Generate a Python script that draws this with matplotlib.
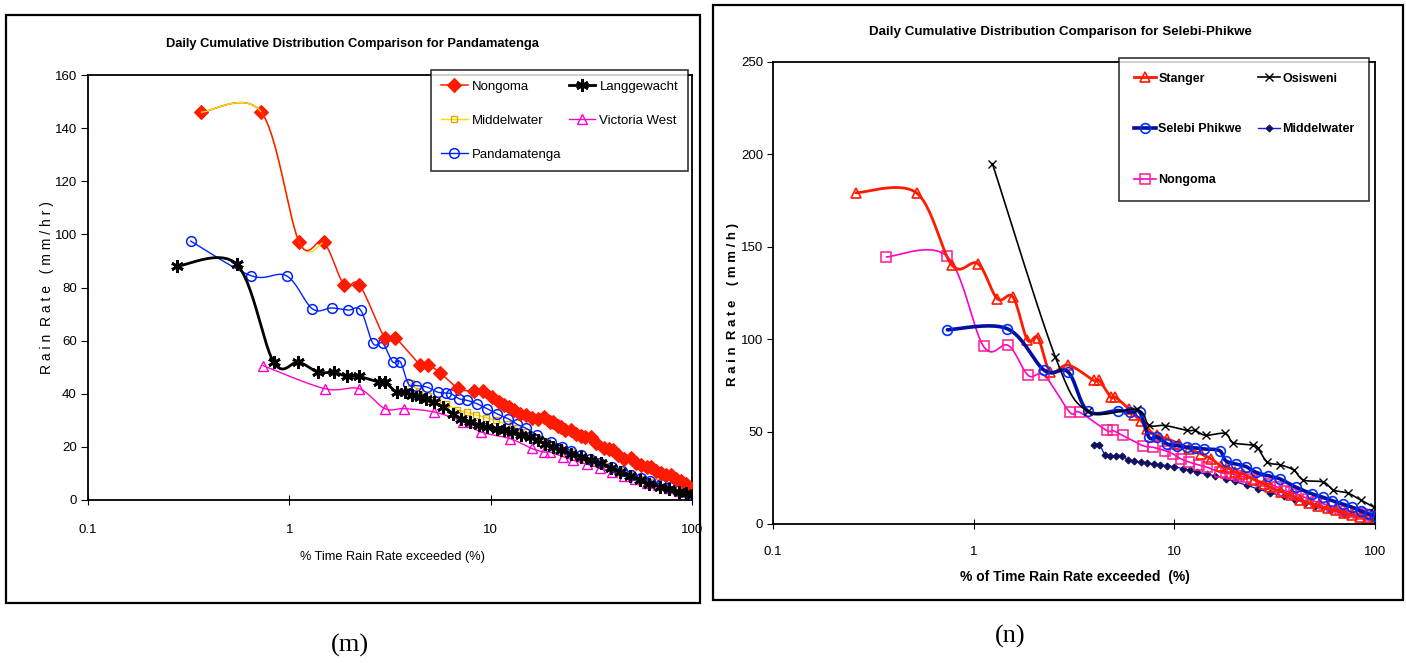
import numpy as np
import matplotlib
matplotlib.use("Agg")
import matplotlib.pyplot as plt
from matplotlib.patches import Rectangle

# ---------------- data: panel (m) Pandamatenga ----------------
m_nongoma_x = [0.366, 0.727, 1.12, 1.48, 1.87, 2.23, 2.98, 3.36, 4.46, 4.88, 5.58, 6.92, 8.28, 9.14, 10.2,
               11.0, 11.7, 12.4, 13.1, 14.0, 15.0, 16.0, 17.1, 18.4, 19.6, 20.3, 21.5, 22.4, 23.5, 25.0,
               26.5, 28.0, 29.5, 31.4, 33.5, 36.5, 38.5, 40.4, 43.0, 46.0, 49.8, 53.0, 56.0, 60.0, 62.5,
               66.0, 70.0, 74.0, 78.7, 83.0, 88.0, 93.0, 97.0, 100.0]
m_nongoma_y = [146, 146, 97, 97, 81, 81, 61, 61, 51, 51, 48, 42, 41, 41, 38.8,
               37, 35.6, 35, 33.8, 32.5, 31.9, 31, 30.6, 31.3, 29.4, 29.4, 28, 27.5, 26.5, 26.4,
               25, 24, 23.7, 23.7, 21.5, 19.6, 19.2, 18.8, 17, 15.6, 15.8, 14, 13.1, 12.4, 12.4,
               11, 10, 9.4, 9.4, 8, 7, 6, 5, 4]

m_langg_x = [0.276, 0.548, 0.836, 1.11, 1.39, 1.66, 1.94, 2.22, 2.78, 2.98, 3.41, 3.76, 4.07, 4.46, 4.8,
             5.22, 5.8, 6.53, 7.14, 7.9, 8.74, 9.6, 10.7, 11.7, 12.8, 14.2, 15.7, 17.1, 18.7, 20.5,
             22.4, 25.0, 28.1, 31.5, 35.2, 39.5, 44, 49, 55, 61, 69, 77, 86, 93, 100]
m_langg_y = [88, 88.75, 51.9, 51.9, 48.1, 48.1, 46.5, 46.5, 44.4, 44.4, 40.6, 40.6, 39.4, 38.75, 38,
             36.9, 35, 32.5, 30.6, 29.5, 28.1, 27.5, 26.9, 26.2, 25.6, 24.6, 23.75, 22.5, 21.25, 20,
             18.75, 17.5, 16.25, 15, 13.75, 12.2, 10.6, 9, 7.5, 6.2, 5, 4, 3.1, 2.5, 1.9]

# first run coincides with the top of Nongoma, second run lies in the dense band
m_middel_x = [0.366, 0.727, 1.12, 1.48, np.nan, 4.0, 4.4, 4.9, 5.4, 6.0, 6.8, 7.6, 8.5, 9.5, 10.6, 12,
              13.5, 15, 17, 19, 22, 25, 29, 33, 38, 44, 50, 57, 65, 74, 84, 94, 100]
m_middel_y = [146, 146, 97, 97, np.nan, 44, 41, 39, 37.5, 36, 34, 33, 32, 31, 30, 28.5,
              27, 25.5, 23.5, 22, 19.5, 18, 16, 14.5, 12.8, 11, 9.5, 8, 6.6, 5.3, 4, 3, 2.5]

m_victoria_x = [0.740, 1.50, 2.22, 2.98, 3.72, 5.26, 7.30, 8.94, 12.5, 16.0, 18.3, 19.6, 23.0, 25.7,
                30, 35, 40, 46, 52, 60, 68, 77, 87, 100]
m_victoria_y = [50.6, 41.9, 41.9, 34.4, 34.4, 33.1, 29.4, 25.6, 23.1, 19.4, 18.1, 18.1, 16.25, 15,
                13.5, 12, 10.5, 9, 8, 6.5, 5.5, 4.5, 3.3, 2]

m_panda_x = [0.323, 0.647, 0.969, 1.30, 1.62, 1.96, 2.26, 2.60, 2.91, 3.26, 3.56, 3.90, 4.26, 4.83,
             5.46, 5.97, 6.38, 6.98, 7.64, 8.55, 9.57, 10.7, 12.2, 13.5, 15, 17, 20, 22.5, 25, 28,
             31, 35, 40, 45, 50, 56, 62, 70, 78, 86, 94, 100]
m_panda_y = [97.5, 84.4, 84.4, 72, 72.3, 71.5, 71.5, 59, 59, 52, 52, 43.75, 43.1, 42.5,
             40.6, 40.3, 40, 38.1, 37.5, 36.25, 34.4, 32.5, 30.6, 28.5, 27, 24.5, 22, 20, 18.5, 17,
             15.5, 14, 12.5, 11, 9.5, 8.3, 7.3, 6, 4.8, 3.8, 2.8, 2]

# ---------------- data: panel (n) Selebi-Phikwe ----------------
n_stanger_x = [0.259, 0.519, 0.780, 1.05, 1.31, 1.57, 1.85, 2.09, 2.41, 2.96, 3.97, 4.23, 4.82, 5.09,
               5.93, 6.3, 6.81, 7.30, 8.20, 9.20, 10.6, 11.9, 13.6, 15.3, 17, 18.4, 20, 22.1, 25, 28,
               30, 34, 38, 42.5, 47, 52, 58, 64, 70, 77, 84, 92, 100]
n_stanger_y = [179.2, 179.2, 140, 140.9, 121.9, 122.8, 99.7, 100.8, 82.3, 86, 77.7, 77.7, 68.6, 68.6,
               62.3, 59, 56, 51.5, 47.9, 46.1, 43.4, 40.6, 37.9, 35.2, 31.5, 30.7, 28, 27.1, 24, 21.5,
               20, 17.5, 15.5, 13, 11.5, 10, 8.7, 7.5, 6.2, 5, 4, 3, 2]

n_osis_x = [1.24, 2.55, 3.70, 6.5, 7.47, 8.99, 11.6, 12.7, 14.3, 17.9, 19.7, 24.8, 26.1, 29.1, 33.8,
            39.3, 44.0, 55.3, 62.0, 73.0, 84.8, 98.4]
n_osis_y = [195, 90.5, 61, 62, 53.5, 53.3, 50.6, 50.6, 48, 49, 44, 42.7, 41, 33.5, 32,
            29.2, 23.8, 22.7, 18.4, 16.8, 13, 9.2]

n_selebi_x = [0.740, 1.47, 2.25, 2.96, 3.70, 5.23, 5.99, 6.72, 7.47, 8.20, 9.20, 10.3, 11.6, 12.7,
              14.0, 16.8, 18.0, 20.2, 22.7, 25.5, 29.2, 33.6, 40.4, 48.6, 55, 61.3, 69, 77.2, 85,
              92.9, 100]
n_selebi_y = [105.1, 105.7, 83.1, 82.2, 61.1, 61.4, 60.5, 60.5, 47, 47, 43.4, 42.4, 41.5, 41.2,
              40.6, 39.7, 34.3, 32.5, 31.1, 28, 26.2, 24.4, 19.9, 16.3, 14.5, 12.6, 10.8, 9.0, 7,
              5.4, 4.5]

n_middel_x = [3.97, 4.23, 4.5, 4.8, 5.1, 5.5, 5.9, 6.3, 6.8, 7.3, 7.9, 8.5, 9.2, 10, 11, 12, 13, 14.5,
              16, 18, 20, 23, 26, 30, 35, 40, 45, 50, 60, 70]
n_middel_y = [43, 43, 37.6, 37, 37, 37, 34.5, 34, 33.5, 33, 32.5, 32, 31.5, 31, 30, 29, 28, 27,
              26, 24.5, 23, 21, 19, 17, 15, 13, 11.5, 10, 7.5, 5.5]

n_nongoma_x = [0.367, 0.737, 1.12, 1.49, 1.87, 2.25, 3.01, 3.37, 4.60, 4.93, 5.53, 6.97, 7.83, 8.99,
               9.86, 10.8, 11.9, 13.2, 14.6, 16.8, 18.0, 19.3, 21.0, 22.7, 24.3, 27.0, 29.9, 32.5,
               35.2, 38.0, 40.4, 43.5, 46.4, 51.0, 55.8, 61.0, 67.2, 72.0, 77.2, 82.0, 86.6, 93.0,
               99.5]
n_nongoma_y = [144.5, 144.9, 96.1, 96.6, 80.4, 80.4, 60.5, 60.5, 50.6, 50.6, 47.9, 42.4, 41.5, 39.7,
               37.9, 35.2, 33.4, 32, 30.7, 28, 27.5, 27.1, 26, 25.3, 24.4, 23, 21.7, 20, 18.1, 17.2,
               16.3, 15, 13.5, 12, 10.8, 9.5, 8.1, 7.2, 6.3, 5.8, 5.4, 4.5, 3.6]

m_xticks = [0.1, 1, 10, 100]
m_xticklabels = ["0.1", "1", "10", "100"]
m_yticks = [0, 20, 40, 60, 80, 100, 120, 140, 160]
n_yticks = [0, 50, 100, 150, 200, 250]


# ---------------- helpers ----------------
def runs_of(xs, ys):
    xs = np.asarray(xs, float)
    ys = np.asarray(ys, float)
    ok = ~(np.isnan(xs) | np.isnan(ys))
    runs, cur = [], []
    for i in range(len(xs)):
        if ok[i]:
            cur.append(i)
        else:
            if cur:
                runs.append(cur)
            cur = []
    if cur:
        runs.append(cur)
    return [(xs[r], ys[r]) for r in runs]


def smooth_run(xs, ys, n=14):
    """Excel-like smoothed line (Catmull-Rom Bezier) through the points, in log-x space."""
    P = np.column_stack([np.log10(xs), ys])
    if len(P) < 2:
        return np.array([]), np.array([])
    t = np.linspace(0, 1, n)
    ox, oy = [], []
    for i in range(len(P) - 1):
        p0 = P[i - 1] if i > 0 else P[i]
        p1 = P[i]
        p2 = P[i + 1]
        p3 = P[i + 2] if i + 2 < len(P) else P[i + 1]
        c1 = p1 + (p2 - p0) / 6.0
        c2 = p2 - (p3 - p1) / 6.0
        b = ((1 - t) ** 3)[:, None] * p1 + (3 * (1 - t) ** 2 * t)[:, None] * c1 + \
            (3 * (1 - t) * t ** 2)[:, None] * c2 + (t ** 3)[:, None] * p2
        ox.extend(10 ** b[:, 0])
        oy.extend(b[:, 1])
    return np.array(ox), np.array(oy)


def series(ax, xs, ys, color, lw, marker, ms, mfc, mec, mew, z, label, run_z=None, over_from=None):
    for k, (rx, ry) in enumerate(runs_of(xs, ys)):
        sx, sy = smooth_run(rx, ry)
        lz = run_z[k] if run_z is not None else z
        if over_from is None:
            ax.plot(sx, sy, color=color, lw=lw, zorder=lz, solid_capstyle="round")
        else:
            lo = sx <= over_from
            hi = sx >= over_from
            ax.plot(sx[lo], sy[lo], color=color, lw=lw, zorder=lz, solid_capstyle="round")
            ax.plot(sx[hi], sy[hi], color=color, lw=lw, zorder=6, solid_capstyle="round")
    ax.plot(xs, ys, ls="none", marker=marker, ms=ms, mfc=mfc, mec=mec, mew=mew, zorder=z + 0.1)
    ax.plot([], [], color=color, lw=lw, marker=marker, ms=ms, mfc=mfc, mec=mec, mew=mew, label=label)


sans = ["Liberation Sans", "DejaVu Sans"]
serif = ["Liberation Serif", "DejaVu Serif"]
plt.rcParams["font.family"] = sans

W, H = 1406, 663
fig = plt.figure(figsize=(W / 100, H / 100), dpi=100)
fig.patch.set_facecolor("white")


def fx(px):
    return px / W


def fy(py):
    return 1 - py / H


# outer boxes
fig.patches.append(Rectangle((fx(6), fy(603)), (700 - 6) / W, (603 - 15) / H, transform=fig.transFigure,
                             fill=False, ec="black", lw=1.6))
fig.patches.append(Rectangle((fx(713), fy(600)), (1403 - 713) / W, (600 - 5) / H, transform=fig.transFigure,
                             fill=False, ec="black", lw=1.6))

# ---------------- panel (m) ----------------
ax1 = fig.add_axes([fx(88), fy(500), (692 - 88) / W, (500 - 75) / H])
ax1.set_xscale("log")
ax1.set_xlim(0.1, 100)
ax1.set_ylim(0, 160)
series(ax1, m_middel_x, m_middel_y, "#f0e000", 1.0, "s", 5, "none", "#e8a000", 1.0, 1.5, "Middelwater",
       run_z=[5, 1.5])
series(ax1, m_victoria_x, m_victoria_y, "#ff00cc", 1.0, "^", 6.5, "none", "#ff00cc", 1.0, 2, "Victoria West")
series(ax1, m_panda_x, m_panda_y, "#0022ff", 1.0, "o", 7, "none", "#0022ff", 1.1, 2.5, "Pandamatenga")
series(ax1, m_nongoma_x, m_nongoma_y, "#ff1a00", 1.1, "D", 7, "#ff1a00", "#ff1a00", 0.8, 3, "Nongoma",
       over_from=0.727)
series(ax1, m_langg_x, m_langg_y, "black", 2.0, (6, 2, 0), 9, "black", "black", 2.0, 4, "Langgewacht")

ax1.set_xticks(m_xticks)
ax1.set_xticklabels(m_xticklabels)
ax1.xaxis.set_minor_locator(matplotlib.ticker.NullLocator())
ax1.set_yticks(m_yticks)
ax1.tick_params(axis="x", direction="inout", length=7, pad=14, labelsize=9.5)
ax1.tick_params(axis="y", direction="out", length=5, pad=3, labelsize=9.5)
for s in ax1.spines.values():
    s.set_linewidth(1.3)

h, l = ax1.get_legend_handles_labels()
order = ["Nongoma", "Middelwater", "Pandamatenga", "Langgewacht", "Victoria West"]
hh = [h[l.index(o)] for o in order]
leg1 = ax1.legend(hh, order, ncol=2, loc="upper right", bbox_to_anchor=(1.0, 1.02), frameon=True,
                  fancybox=False, edgecolor="black", fontsize=9.5, handlelength=2.0, handletextpad=0.3,
                  columnspacing=0.6, labelspacing=1.65, borderpad=0.75, borderaxespad=0.3)
leg1.get_frame().set_linewidth(1.2)

fig.text(fx(352), fy(44), "Daily Cumulative Distribution Comparison for Pandamatenga", ha="center", va="center",
         fontsize=9.3, fontweight="bold")
fig.text(fx(47), fy(288), "R a i n  R a t e   ( m m / h r )", rotation=90, ha="center", va="center",
         fontsize=10)
fig.text(fx(392), fy(557), "% Time Rain Rate exceeded (%)", ha="center", va="center", fontsize=9.2)
fig.text(fx(350), fy(645), "(m)", ha="center", va="center", fontsize=19, family=serif)

# ---------------- panel (n) ----------------
ax2 = fig.add_axes([fx(773), fy(524), (1375 - 773) / W, (524 - 62) / H])
ax2.set_xscale("log")
ax2.set_xlim(0.1, 100)
ax2.set_ylim(0, 250)
series(ax2, n_middel_x, n_middel_y, "#1020e0", 1.0, "D", 3.5, "#101060", "#101060", 0.8, 2, "Middelwater")
series(ax2, n_nongoma_x, n_nongoma_y, "#ff00cc", 1.2, "s", 7, "none", "#ff1a8c", 1.1, 2.2, "Nongoma")
series(ax2, n_stanger_x, n_stanger_y, "#ff1a00", 2.0, "^", 6.5, "none", "#ff1a00", 1.2, 2.4, "Stanger")
series(ax2, n_selebi_x, n_selebi_y, "#0010a0", 2.6, "o", 7, "none", "#0030ff", 1.2, 2.6, "Selebi Phikwe")
series(ax2, n_osis_x, n_osis_y, "black", 1.2, "x", 6, "black", "black", 1.0, 3, "Osisweni")

ax2.set_xticks(m_xticks)
ax2.set_xticklabels(m_xticklabels)
ax2.xaxis.set_minor_locator(matplotlib.ticker.NullLocator())
ax2.set_yticks(n_yticks)
ax2.tick_params(axis="x", direction="inout", length=7, pad=12, labelsize=9.5)
ax2.tick_params(axis="y", direction="out", length=4, pad=3, labelsize=9.5)
for s in ax2.spines.values():
    s.set_linewidth(1.3)

h, l = ax2.get_legend_handles_labels()
order2 = ["Stanger", "Selebi Phikwe", "Nongoma", "Osisweni", "Middelwater"]
hh2 = [h[l.index(o)] for o in order2]
leg2 = ax2.legend(hh2, order2, ncol=2, loc="upper right", bbox_to_anchor=(0.995, 1.015), frameon=True,
                  fancybox=False, edgecolor="black",
                  prop={"weight": "bold", "size": 9},
                  handlelength=1.8, handletextpad=0.15, columnspacing=1.3, labelspacing=3.1,
                  borderpad=1.2, borderaxespad=0.2)
leg2.get_frame().set_linewidth(1.2)

fig.text(fx(1060), fy(32), "Daily Cumulative Distribution Comparison for Selebi-Phikwe", ha="center",
         va="center", fontsize=9.6, fontweight="bold")
fig.text(fx(733), fy(305), "R a i n  R a t e    ( m m / h )", rotation=90, ha="center", va="center",
         fontsize=9.5, fontweight="bold")
fig.text(fx(1075), fy(577), "% of Time Rain Rate exceeded  (%)", ha="center", va="center", fontsize=10,
         fontweight="bold")
fig.text(fx(1010), fy(636), "(n)", ha="center", va="center", fontsize=19, family=serif)

fig.savefig("out.png", dpi=100, facecolor="white")
